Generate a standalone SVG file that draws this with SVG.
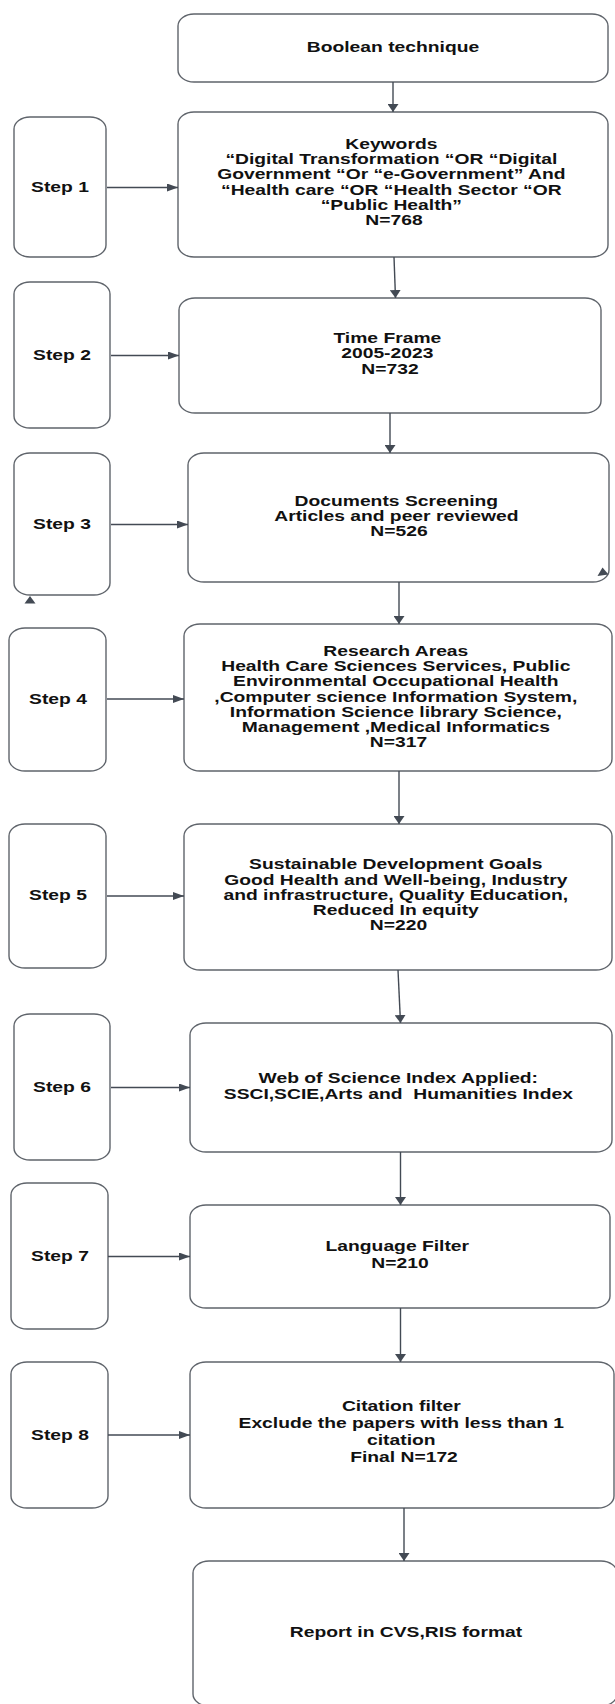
<svg xmlns="http://www.w3.org/2000/svg" width="615" height="1704" viewBox="0 0 615 1704">
<defs>
<style>
.box{fill:#fff;stroke:#5f646b;stroke-width:1.4}
.t{font-family:"Liberation Sans",Arial,sans-serif;font-weight:bold;font-size:14.5px;fill:#111;text-anchor:middle}
.c{stroke:#434a54;stroke-width:1.4;fill:none}
.h{marker-end:url(#mH)}
.v{marker-end:url(#mV)}
.ah{fill:#434a54}
</style>
<marker id="mH" markerUnits="userSpaceOnUse" markerWidth="11" markerHeight="8" refX="11" refY="4" orient="auto" viewBox="0 0 11 8"><path d="M0,0 L11,4 L0,8 z" fill="#434a54"/></marker>
<marker id="mV" markerUnits="userSpaceOnUse" markerWidth="8" markerHeight="11" refX="8" refY="5.5" orient="auto" viewBox="0 0 8 11"><path d="M0,0 L8,5.5 L0,11 z" fill="#434a54"/></marker>
</defs>
<rect width="615" height="1704" fill="#fff"/>

<g id="boolean">
<rect class="box" x="178" y="14" width="430" height="68" rx="16" ry="12"/>
<text class="t" transform="translate(393 0) scale(1.33 1)"><tspan x="0" y="52">Boolean technique</tspan></text>
</g>

<g id="keywords">
<rect class="box" x="178" y="112" width="430" height="145" rx="16" ry="12"/>
<text class="t" transform="translate(394 0) scale(1.33 1)">
<tspan x="0" y="149">Keywords</tspan>
<tspan x="0" y="164.2">“Digital Transformation “OR “Digital</tspan>
<tspan x="0" y="179.4">Government “Or “e-Government” And</tspan>
<tspan x="0" y="194.6">“Health care “OR “Health Sector “OR</tspan>
<tspan x="0" y="209.8">“Public Health”</tspan>
<tspan x="0" y="225">N=768</tspan>
</text>
</g>

<g id="step1">
<rect class="box" x="14" y="117" width="92" height="140" rx="16" ry="12"/>
<text class="t" transform="translate(60 0) scale(1.33 1)"><tspan x="0" y="192.5">Step 1</tspan></text>
</g>

<g id="step2">
<rect class="box" x="14" y="282" width="96" height="146" rx="16" ry="12"/>
<text class="t" transform="translate(62 0) scale(1.33 1)"><tspan x="0" y="360">Step 2</tspan></text>
</g>

<g id="timeframe">
<rect class="box" x="179" y="298" width="422" height="115" rx="16" ry="12"/>
<text class="t" transform="translate(390 0) scale(1.33 1)">
<tspan x="0" y="343">Time Frame</tspan>
<tspan x="0" y="358.3">2005-2023</tspan>
<tspan x="0" y="373.6">N=732</tspan>
</text>
</g>

<g id="step3">
<rect class="box" x="14" y="453" width="96" height="142" rx="16" ry="12"/>
<text class="t" transform="translate(62 0) scale(1.33 1)"><tspan x="0" y="529">Step 3</tspan></text>
</g>

<g id="documents">
<rect class="box" x="188" y="453" width="421" height="129" rx="16" ry="12"/>
<text class="t" transform="translate(399 0) scale(1.33 1)">
<tspan x="0" y="505.7">Documents Screening</tspan>
<tspan x="0" y="521">Articles and peer reviewed</tspan>
<tspan x="0" y="536.3">N=526</tspan>
</text>
</g>

<g id="step4">
<rect class="box" x="9" y="628" width="97" height="143" rx="16" ry="12"/>
<text class="t" transform="translate(58 0) scale(1.33 1)"><tspan x="0" y="704">Step 4</tspan></text>
</g>

<g id="research">
<rect class="box" x="184" y="624" width="428" height="147" rx="16" ry="12"/>
<text class="t" transform="translate(398.5 0) scale(1.33 1)">
<tspan x="0" y="655.7">Research Areas</tspan>
<tspan x="0" y="671">Health Care Sciences Services, Public</tspan>
<tspan x="0" y="686.3">Environmental Occupational Health</tspan>
<tspan x="0" y="701.6">,Computer science Information System,</tspan>
<tspan x="0" y="716.9">Information Science library Science,</tspan>
<tspan x="0" y="732.2">Management ,Medical Informatics</tspan>
<tspan x="0" y="747.5">N=317</tspan>
</text>
</g>

<g id="step5">
<rect class="box" x="9" y="824" width="97" height="144" rx="16" ry="12"/>
<text class="t" transform="translate(58 0) scale(1.33 1)"><tspan x="0" y="900">Step 5</tspan></text>
</g>

<g id="sdg">
<rect class="box" x="184" y="824" width="428" height="146" rx="16" ry="12"/>
<text class="t" transform="translate(398.5 0) scale(1.33 1)">
<tspan x="0" y="869.3">Sustainable Development Goals</tspan>
<tspan x="0" y="884.6">Good Health and Well-being, Industry</tspan>
<tspan x="0" y="899.9">and infrastructure, Quality Education,</tspan>
<tspan x="0" y="915.2">Reduced In equity</tspan>
<tspan x="0" y="930.5">N=220</tspan>
</text>
</g>

<g id="step6">
<rect class="box" x="14" y="1014" width="96" height="146" rx="16" ry="12"/>
<text class="t" transform="translate(62 0) scale(1.33 1)"><tspan x="0" y="1092">Step 6</tspan></text>
</g>

<g id="wos">
<rect class="box" x="190" y="1023" width="422" height="129" rx="16" ry="12"/>
<text class="t" transform="translate(401 0) scale(1.33 1)" xml:space="preserve">
<tspan x="0" y="1083">Web of Science Index Applied:</tspan>
<tspan x="0" y="1099.5">SSCI,SCIE,Arts and  Humanities Index</tspan>
</text>
</g>

<g id="step7">
<rect class="box" x="11" y="1183" width="97" height="146" rx="16" ry="12"/>
<text class="t" transform="translate(60 0) scale(1.33 1)"><tspan x="0" y="1261">Step 7</tspan></text>
</g>

<g id="language">
<rect class="box" x="190" y="1205" width="420" height="103" rx="16" ry="12"/>
<text class="t" transform="translate(400 0) scale(1.33 1)">
<tspan x="0" y="1250.7">Language Filter</tspan>
<tspan x="0" y="1267.7">N=210</tspan>
</text>
</g>

<g id="step8">
<rect class="box" x="11" y="1362" width="97" height="146" rx="16" ry="12"/>
<text class="t" transform="translate(60 0) scale(1.33 1)"><tspan x="0" y="1440">Step 8</tspan></text>
</g>

<g id="citation">
<rect class="box" x="190" y="1362" width="424" height="146" rx="16" ry="12"/>
<text class="t" transform="translate(404 0) scale(1.33 1)">
<tspan x="0" y="1411.3">Citation filter</tspan>
<tspan x="0" y="1428.3">Exclude the papers with less than 1</tspan>
<tspan x="0" y="1445.3">citation</tspan>
<tspan x="0" y="1462.3">Final N=172</tspan>
</text>
</g>

<g id="report">
<rect class="box" x="193" y="1561" width="424" height="145" rx="16" ry="12"/>
<text class="t" transform="translate(406 0) scale(1.33 1)"><tspan x="0" y="1637.3">Report in CVS,RIS format</tspan></text>
</g>

<g id="connectors">
<line class="c v" x1="393" y1="82" x2="393" y2="112"/>
<line class="c v" x1="394" y1="257" x2="395.5" y2="298"/>
<line class="c h" x1="107" y1="187.5" x2="178" y2="187.5"/>
<line class="c h" x1="111" y1="355.5" x2="179" y2="355.5"/>
<line class="c v" x1="390" y1="413" x2="390" y2="453"/>
<line class="c h" x1="111" y1="524.5" x2="188" y2="524.5"/>
<line class="c v" x1="399" y1="582" x2="399" y2="624"/>
<line class="c h" x1="107" y1="699" x2="184" y2="699"/>
<line class="c v" x1="399" y1="771" x2="399" y2="824"/>
<line class="c h" x1="107" y1="896" x2="184" y2="896"/>
<line class="c v" x1="398" y1="970" x2="400.5" y2="1023"/>
<line class="c h" x1="111" y1="1087.5" x2="190" y2="1087.5"/>
<line class="c v" x1="400.5" y1="1152" x2="400.5" y2="1205"/>
<line class="c h" x1="108" y1="1256.5" x2="190" y2="1256.5"/>
<line class="c v" x1="400.5" y1="1308" x2="400.5" y2="1362"/>
<line class="c h" x1="108" y1="1435" x2="190" y2="1435"/>
<line class="c v" x1="404" y1="1508" x2="404" y2="1561"/>
<polygon class="ah" points="24.5,603.5 30,596 35.5,603.5"/>
<polygon class="ah" points="597.5,576 602.5,567.5 608.5,574.5"/>
</g>
</svg>
